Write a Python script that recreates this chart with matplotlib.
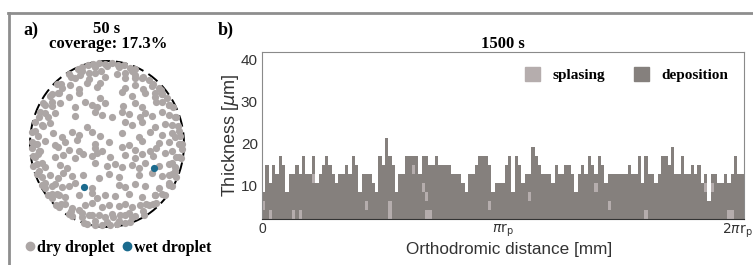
import numpy as np
import matplotlib.pyplot as plt
from matplotlib.lines import Line2D
from matplotlib.patches import Patch
from matplotlib.transforms import ScaledTranslation

W, H = 753, 265

# ---- panel a: droplet positions on the particle (in % of r_p) ----
dry_x = [-38, -32, -25, -18, -10, -2, 6, 14, 22, 30, 37,
         -50, -41, -35, -24, -16, -3, 13, 23, 36, 45, 54,
         -65, -59, -48, -37, -26, -13, -9, 23, 36, 47, 58, 67, 70,
         -74, -63, -50, -37, -9, 19, 32, 49, 62, 71, 78,
         -83, -72, -61, -41, -29, -20, -13, -3, 21, 36, 45, 64, 80, 86,
         -87, -76, -67, -41, -16, -7, 6, 19, 28, 43, 49, 58, 71, 80, 90,
         -93, -83, -74, -26, 23, 32, 45, 62, 75, 92,
         -97, -89, -70, -59, -46, -37, -20, -9, 19, 41, 56, 71, 84, 95,
         -98, -91, -80, -67, -54, -39, -16, 2, 28, 45, 67, 80, 97,
         -97, -87, -63, -50, -37, -16, -7, 19, 36, 56, 64, 84, 97,
         -96, -89, -67, -57, -41, -31, -20, -13, 4, 23, 36, 45, 60, 75, 90, 96,
         -96, -91, -80, -61, -52, -16, 0, 10, 19, 32, 41, 49, 67, 80, 88,
         -91, -85, -74, -63, -57, -46, -31, -11, 2, 15, 41, 58, 71, 84, 89,
         -85, -80, -67, -59, -50, -41, -20, 15, 23, 36, 49, 67, 80, 84,
         -77, -72, -65, -54, -37, -20, -13, -3, 10, 28, 45, 62, 75,
         -66, -62, -55, -46, -29, -20, -7, 2, 15, 23, 32, 43, 54, 64,
         -50, -46, -33, -20, -11, -3, 6, 17, 28, 36, 48,
         -30, -26, -16, -7, 4, 13, 23, 30]
dry_y = [90, 93, 95, 96, 97, 96, 97, 95, 95, 92, 90,
         84, 80, 83, 78, 85, 81, 84, 79, 83, 80, 77,
         72, 68, 71, 66, 73, 69, 74, 67, 71, 66, 70, 68, 65,
         58, 62, 57, 61, 56, 63, 58, 61, 57, 60, 56,
         50, 46, 49, 44, 51, 47, 45, 50, 46, 49, 44, 51, 47, 45,
         38, 33, 37, 34, 39, 35, 33, 38, 36, 32, 37, 34, 38, 35, 33,
         26, 22, 25, 21, 27, 23, 26, 21, 24, 22,
         14, 10, 13, 9, 15, 11, 14, 10, 13, 9, 15, 11, 13, 10,
         3, 0, 4, -1, 2, 5, 0, 3, -1, 4, 1, 3, 0,
         -5, -8, -4, -7, -9, -5, -8, -4, -7, -9, -5, -8, -6,
         -15, -12, -16, -13, -17, -12, -15, -11, -16, -13, -17, -12, -15, -11, -16, -17,
         -27, -24, -28, -25, -29, -23, -27, -24, -28, -25, -29, -23, -27, -24, -28,
         -36, -40, -37, -41, -35, -39, -37, -41, -36, -40, -37, -35, -39, -36, -40,
         -49, -53, -48, -52, -50, -47, -53, -49, -52, -48, -50, -53, -49, -51,
         -61, -65, -60, -64, -62, -59, -65, -61, -63, -60, -64, -61, -62,
         -73, -76, -72, -77, -74, -71, -76, -73, -75, -72, -76, -73, -74, -71,
         -84, -87, -83, -86, -85, -88, -84, -86, -83, -87, -85,
         -95, -96, -97, -97, -97, -96, -95, -94]
# crowded droplets along the rim
rim_x = [94, 93, 88, 81, 72, 60, 47, 32, 16, 0, -16, -32, -47, -60, -72, -81,
         -88, -93, -94, -93, -88, -81, -72, -60, -47, -32, -16, 0, 16, 32, 47,
         60, 72, 81, 88, 93,
         88, 85, 72, 62, 37, 23, -8, -23, -62, -72, -80, -85, -88, -85, -72,
         -62, -37, -23, 8, 23, 51, 62, 80, 85]
rim_y = [0, 16, 32, 47, 60, 72, 81, 88, 93, 94, 93, 88, 81, 72, 60, 47,
         32, 16, 0, -16, -32, -47, -60, -72, -81, -88, -93, -94, -93, -88, -81,
         -72, -60, -47, -32, -16,
         8, 23, 51, 62, 80, 85, 88, 85, 62, 51, 37, 23, -8, -23, -51,
         -62, -80, -85, -88, -85, -72, -62, -37, -23]
wet_x = [-29.5, 61]
wet_y = [-52.4, -28.6]

# ---- panel b: deposited layers per bin along the orthodromic path ----
layer_thick = 2.13  # um per droplet layer
n_layers = [4, 7, 5, 7, 6, 8, 7, 4, 6, 6, 7, 6, 8, 6, 6, 8, 5, 6, 7, 8,
            7, 6, 5, 6, 6, 7, 6, 8, 7, 4, 6, 6, 6, 5, 4, 8, 7, 10, 8, 7,
            4, 6, 6, 8, 8, 8, 8, 6, 8, 8, 7, 7, 8, 7, 7, 7, 7, 6, 6, 6,
            5, 4, 6, 6, 7, 8, 8, 8, 7, 4, 5, 5, 5, 7, 8, 4, 8, 7, 5, 6,
            6, 9, 8, 7, 6, 6, 6, 5, 7, 6, 6, 7, 7, 6, 4, 6, 7, 6, 8, 7,
            6, 8, 7, 5, 6, 6, 6, 6, 6, 6, 7, 6, 6, 8, 5, 8, 6, 6, 5, 6,
            8, 8, 7, 9, 6, 6, 8, 6, 6, 7, 6, 7, 5, 6, 3, 6, 6, 5, 5, 6,
            5, 6, 8, 6, 6]
splash_bin = [0, 2, 9, 11, 15, 31, 38, 38, 45, 48, 49, 49, 50, 68, 80, 100,
              104, 115, 133, 135, 140, 141]
splash_layer = [2, 1, 1, 1, 5, 2, 1, 2, 6, 4, 3, 1, 1, 2, 3, 4, 2, 1, 4, 4,
                1, 1]

dry_col = '#aca6a5'
wet_col = '#1b6b8e'
dep_col = '#85807d'
spl_col = '#b5adad'
serif = 'Liberation Serif'
sans = 'Liberation Sans'

fig = plt.figure(figsize=(W / 100, H / 100), dpi=100)

# outer frame
fig.add_artist(Line2D([8 / W, 1], [1 - 13 / H, 1 - 13 / H], color='#8e8e8e', lw=2))
fig.add_artist(Line2D([9 / W, 9 / W], [0, 1 - 13 / H], color='#8e8e8e', lw=2))

# ---- a) ----
axa = fig.add_axes([30 / W, 1 - 227 / H, 154 / W, 166 / H])
t = np.linspace(0, 2 * np.pi, 300)
axa.plot(100 * np.cos(t), 100 * np.sin(t), color='black', lw=1.4,
         dashes=(6, 3), zorder=1, clip_on=False)
axa.scatter(rim_x, rim_y, s=27, color=dry_col, lw=0, zorder=2, clip_on=False)
axa.scatter(dry_x, dry_y, s=27, color=dry_col, lw=0, zorder=2, clip_on=False)
axa.scatter(wet_x, wet_y, s=27, color=wet_col, lw=0, zorder=3, clip_on=False)
axa.set_xlim(-100, 100)
axa.set_ylim(-100, 100)
axa.axis('off')

fig.text(23 / W, 1 - 30 / H, 'a)', fontsize=13, fontweight='bold',
         family=serif, va='center')
fig.text(107 / W, 1 - 29 / H, '50 s', fontsize=12, fontweight='bold',
         family=serif, ha='center', va='center')
fig.text(108 / W, 1 - 44 / H, 'coverage: 17.3%', fontsize=12, fontweight='bold',
         family=serif, ha='center', va='center')

h_a = [Line2D([], [], ls='', marker='o', ms=6, color=dry_col, label='dry droplet'),
       Line2D([], [], ls='', marker='o', ms=6, color=wet_col, label='wet droplet')]
fig.legend(handles=h_a, loc='center left', bbox_to_anchor=(17 / W, 1 - 248 / H),
           ncol=2, frameon=False, handlelength=0.6, handletextpad=0.15,
           columnspacing=0.5, borderpad=0,
           prop={'family': serif, 'weight': 'bold', 'size': 11.5})

# ---- b) ----
axb = fig.add_axes([262 / W, 1 - 219 / H, 482 / W, 166.7 / H])
edges = np.linspace(0, 2 * np.pi, len(n_layers) + 1)
bw = edges[1] - edges[0]
axb.stairs(np.array(n_layers) * layer_thick, edges, fill=True, baseline=0,
           color=dep_col, lw=0)
axb.bar(edges[splash_bin], layer_thick, width=bw,
        bottom=np.array(splash_layer) * layer_thick, align='edge',
        color=spl_col, lw=0)
axb.set_xlim(0, 2 * np.pi)
axb.set_ylim(layer_thick, 41.6)
axb.set_yticks([10, 20, 30, 40])
axb.set_xticks([0, np.pi, 2 * np.pi])
axb.set_xticklabels(['0', r'$\pi\mathrm{r}_\mathrm{p}$', r'$2\pi\mathrm{r}_\mathrm{p}$'])
axb.tick_params(length=0, pad=3, labelsize=11, labelcolor='#333333')
axb.tick_params(axis='x', labelsize=10, pad=2)
for lab in axb.get_xticklabels() + axb.get_yticklabels():
    lab.set_family(sans)
xt = axb.get_xticklabels()
xt[-1].set_transform(xt[-1].get_transform() + ScaledTranslation(-7 / 100, 0, fig.dpi_scale_trans))
for s in axb.spines.values():
    s.set_color('#8a8a8a')
    s.set_linewidth(0.8)
axb.spines['bottom'].set_color('#333333')
axb.set_ylabel(r'Thickness [$\mu$m]', family=sans, fontsize=13, color='#333333',
               labelpad=0)
axb.set_xlabel('Orthodromic distance [mm]', family=sans, fontsize=12.3,
               color='#333333')
axb.xaxis.set_label_coords(0.512, -0.135)
axb.set_title('1500 s', family=serif, fontweight='bold', fontsize=12, pad=3)

h_b = [Patch(color=spl_col, label='splasing'), Patch(color=dep_col, label='deposition')]
axb.legend(handles=h_b, loc='center right', bbox_to_anchor=(0.983, 0.865),
           ncol=2, frameon=False, handlelength=1.0, handleheight=1.0,
           handletextpad=0.8, columnspacing=1.9, borderpad=0,
           prop={'family': serif, 'weight': 'bold', 'size': 11})

fig.text(218 / W, 1 - 30 / H, 'b)', fontsize=13, fontweight='bold',
         family=serif, va='center')

fig.savefig('out.png', dpi=100)
